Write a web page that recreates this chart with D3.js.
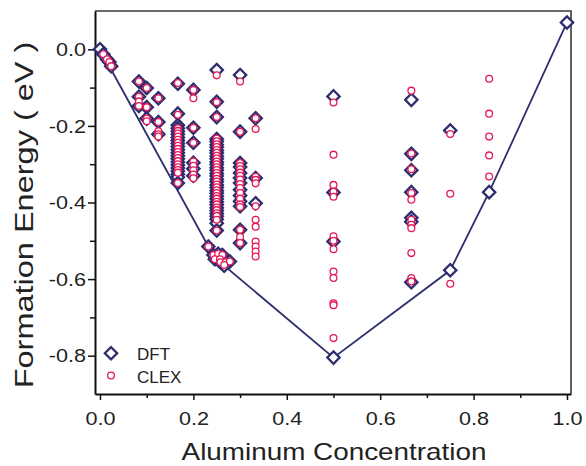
<!DOCTYPE html>
<html>
<head>
<meta charset="utf-8">
<script src="https://cdn.jsdelivr.net/npm/d3@7"></script>
<style>
  body { margin: 0; background: #fff; }
  text { font-family: "Liberation Sans", Arial, Helvetica, sans-serif; fill: #222; }
</style>
</head>
<body>
<svg id="chart" width="586" height="466"></svg>
<script>
// Formation energies (eV) vs. aluminum concentration: DFT and cluster-expansion (CLEX) values.
const dftPoints = [
  [0, 0], [0.007, -0.013], [0.015, -0.026], [0.020, -0.033], [0.024, -0.044],
  [0.0833, -0.084], [0.0833, -0.124], [0.0833, -0.148],
  [0.1, -0.101], [0.1, -0.151], [0.1, -0.181],
  [0.125, -0.128], [0.125, -0.19], [0.125, -0.222],
  [0.1667, -0.09], [0.1667, -0.168], [0.1667, -0.198], [0.1667, -0.206], [0.1667, -0.214],
  [0.1667, -0.222], [0.1667, -0.23], [0.1667, -0.238], [0.1667, -0.246], [0.1667, -0.254],
  [0.1667, -0.262], [0.1667, -0.27], [0.1667, -0.278], [0.1667, -0.286], [0.1667, -0.294],
  [0.1667, -0.302], [0.1667, -0.31], [0.1667, -0.318], [0.1667, -0.326], [0.1667, -0.334],
  [0.1667, -0.349],
  [0.2, -0.106], [0.2, -0.205], [0.2, -0.244], [0.2, -0.296], [0.2, -0.312], [0.2, -0.33],
  [0.25, -0.054], [0.25, -0.137], [0.25, -0.177],
  [0.25, -0.234], [0.25, -0.241], [0.25, -0.249], [0.25, -0.256], [0.25, -0.264], [0.25, -0.271],
  [0.25, -0.279], [0.25, -0.286], [0.25, -0.294], [0.25, -0.301], [0.25, -0.309], [0.25, -0.316],
  [0.25, -0.324], [0.25, -0.331], [0.25, -0.339], [0.25, -0.346], [0.25, -0.354], [0.25, -0.361],
  [0.25, -0.369], [0.25, -0.376], [0.25, -0.384], [0.25, -0.391], [0.25, -0.399], [0.25, -0.406],
  [0.25, -0.414], [0.25, -0.421], [0.25, -0.429], [0.25, -0.436], [0.25, -0.444], [0.25, -0.454],
  [0.25, -0.473],
  [0.232, -0.515], [0.243, -0.537], [0.253, -0.534], [0.262, -0.537], [0.246, -0.548],
  [0.257, -0.548], [0.258, -0.556], [0.269, -0.556], [0.278, -0.554], [0.266, -0.565],
  [0.3, -0.067], [0.3, -0.215], [0.3, -0.297], [0.3, -0.307], [0.3, -0.323], [0.3, -0.336],
  [0.3, -0.349], [0.3, -0.367], [0.3, -0.382], [0.3, -0.397], [0.3, -0.41], [0.3, -0.471], [0.3, -0.506],
  [0.3333, -0.18], [0.3333, -0.336], [0.3333, -0.402],
  [0.5, -0.123], [0.5, -0.374], [0.5, -0.502], [0.5, -0.805],
  [0.6667, -0.132], [0.6667, -0.273], [0.6667, -0.316], [0.6667, -0.373], [0.6667, -0.44],
  [0.6667, -0.45], [0.6667, -0.608],
  [0.75, -0.212], [0.75, -0.577],
  [0.8333, -0.373],
  [1.0, 0.07]
];

const clexPoints = [
  [0.007, -0.013], [0.015, -0.026], [0.020, -0.033], [0.024, -0.044],
  [0.0833, -0.084], [0.0833, -0.124], [0.0833, -0.136], [0.0833, -0.148],
  [0.1, -0.101], [0.1, -0.151], [0.1, -0.181], [0.1, -0.188],
  [0.125, -0.128], [0.125, -0.19], [0.125, -0.214], [0.125, -0.222], [0.125, -0.228],
  [0.1667, -0.088], [0.1667, -0.171], [0.1667, -0.206], [0.1667, -0.213], [0.1667, -0.22],
  [0.1667, -0.228], [0.1667, -0.236], [0.1667, -0.244], [0.1667, -0.252], [0.1667, -0.26],
  [0.1667, -0.268], [0.1667, -0.276], [0.1667, -0.284], [0.1667, -0.292], [0.1667, -0.3],
  [0.1667, -0.308], [0.1667, -0.315], [0.1667, -0.322], [0.1667, -0.349],
  [0.2, -0.106], [0.2, -0.128], [0.2, -0.205], [0.2, -0.244], [0.2, -0.293], [0.2, -0.304],
  [0.2, -0.316], [0.2, -0.327], [0.2, -0.337],
  [0.25, -0.068], [0.25, -0.138], [0.25, -0.177],
  [0.25, -0.233], [0.25, -0.24], [0.25, -0.248], [0.25, -0.255], [0.25, -0.263], [0.25, -0.27],
  [0.25, -0.278], [0.25, -0.285], [0.25, -0.293], [0.25, -0.3], [0.25, -0.308], [0.25, -0.315],
  [0.25, -0.323], [0.25, -0.33], [0.25, -0.338], [0.25, -0.345], [0.25, -0.353], [0.25, -0.36],
  [0.25, -0.368], [0.25, -0.375], [0.25, -0.383], [0.25, -0.39], [0.25, -0.398], [0.25, -0.405],
  [0.25, -0.413], [0.25, -0.42], [0.25, -0.428], [0.25, -0.435], [0.25, -0.445], [0.25, -0.473],
  [0.232, -0.515], [0.243, -0.537], [0.253, -0.534], [0.262, -0.537], [0.246, -0.548],
  [0.257, -0.548], [0.258, -0.556], [0.269, -0.556], [0.278, -0.554], [0.266, -0.563],
  [0.3, -0.084], [0.3, -0.215], [0.3, -0.297], [0.3, -0.305], [0.3, -0.313], [0.3, -0.322],
  [0.3, -0.33], [0.3, -0.34], [0.3, -0.352], [0.3, -0.362], [0.3, -0.375], [0.3, -0.39],
  [0.3, -0.405], [0.3, -0.412], [0.3, -0.471], [0.3, -0.49], [0.3, -0.506],
  [0.3333, -0.18], [0.3333, -0.208], [0.3333, -0.333], [0.3333, -0.341], [0.3333, -0.35],
  [0.3333, -0.41], [0.3333, -0.445], [0.3333, -0.463], [0.3333, -0.502], [0.3333, -0.515],
  [0.3333, -0.528], [0.3333, -0.541],
  [0.5, -0.139], [0.5, -0.275], [0.5, -0.354], [0.5, -0.372], [0.5, -0.385], [0.5, -0.488],
  [0.5, -0.5], [0.5, -0.522], [0.5, -0.58], [0.5, -0.597], [0.5, -0.663], [0.5, -0.668], [0.5, -0.754],
  [0.6667, -0.108], [0.6667, -0.272], [0.6667, -0.313], [0.6667, -0.375], [0.6667, -0.393],
  [0.6667, -0.445], [0.6667, -0.458], [0.6667, -0.467], [0.6667, -0.532], [0.6667, -0.597],
  [0.6667, -0.606],
  [0.75, -0.221], [0.75, -0.377], [0.75, -0.612],
  [0.8333, -0.077], [0.8333, -0.168], [0.8333, -0.228], [0.8333, -0.277], [0.8333, -0.332]
];

// Ground-state convex hull through the lowest DFT structures.
const hullPoints = [
  [0, 0], [0.232, -0.515], [0.266, -0.565], [0.5, -0.805],
  [0.75, -0.577], [0.8333, -0.373], [1.0, 0.07]
];

const xMajorTicks = [0, 0.2, 0.4, 0.6, 0.8, 1.0];
const xMinorTicks = [0.1, 0.3, 0.5, 0.7, 0.9];
const yMajorTicks = [-0.8, -0.6, -0.4, -0.2, 0.0];
const yMinorTicks = [-0.7, -0.5, -0.3, -0.1];
const seriesNames = ["DFT", "CLEX"];

const navy = "#2c2e6e";
const crimson = "#e5195a";

const svg = d3.select("#chart");

const x = d3.scaleLinear().domain([-0.0107, 1.0086]).range([95, 571]);
const y = d3.scaleLinear().domain([-0.9, 0.1]).range([394, 11]);

const fmt = d => d.toFixed(1);
const SX = 1.2;

// Plot frame (top and right edges)
svg.append("path")
  .attr("d", `M${x.range()[0]},${y.range()[1]}H${x.range()[1]}V${y.range()[0]}`)
  .attr("fill", "none").attr("stroke", "#3a3a3a").attr("stroke-width", 1.6);

// Bottom axis
const gx = svg.append("g").attr("transform", `translate(0,${y.range()[0]})`);
gx.call(d3.axisBottom(x).tickValues(xMajorTicks).tickSize(6).tickSizeOuter(0).tickFormat(fmt));
gx.append("g").call(d3.axisBottom(x).tickValues(xMinorTicks).tickSize(4).tickSizeOuter(0).tickFormat(""))
  .select(".domain").remove();
gx.selectAll(".tick text")
  .attr("y", 31).attr("dy", null)
  .attr("font-size", 18)
  .attr("transform", `scale(${SX},1)`)
  .attr("fill", "#222");

// Left axis
const gy = svg.append("g").attr("transform", `translate(${x.range()[0]},0)`);
gy.call(d3.axisLeft(y).tickValues(yMajorTicks).tickSize(7).tickSizeOuter(0).tickFormat(fmt));
gy.append("g").call(d3.axisLeft(y).tickValues(yMinorTicks).tickSize(5).tickSizeOuter(0).tickFormat(""))
  .select(".domain").remove();
gy.selectAll(".tick text")
  .attr("x", -9 / SX).attr("dy", "0.34em")
  .attr("font-size", 18)
  .attr("transform", `scale(${SX},1)`)
  .attr("fill", "#222");

svg.selectAll(".domain").attr("stroke", "#111").attr("stroke-width", 2);
svg.selectAll(".tick line").attr("stroke", "#111").attr("stroke-width", 1.5);

// Axis titles
svg.append("text")
  .attr("transform", `translate(334,460) scale(1.16,1)`)
  .attr("text-anchor", "middle").attr("font-size", 24)
  .text("Aluminum Concentration");
svg.append("text")
  .attr("transform", `translate(33,215) rotate(-90) scale(1.3,1)`)
  .attr("text-anchor", "middle").attr("font-size", 25)
  .text("Formation Energy ( eV )");

// Convex hull
svg.append("path")
  .datum(hullPoints)
  .attr("d", d3.line().x(d => x(d[0])).y(d => y(d[1])))
  .attr("fill", "none").attr("stroke", navy).attr("stroke-width", 1.8);

const diamond = d3.symbol(d3.symbolSquare, 76);

// DFT diamonds
svg.append("g").selectAll("path")
  .data(dftPoints).join("path")
  .attr("d", diamond)
  .attr("transform", d => `translate(${x(d[0])},${y(d[1])}) rotate(45)`)
  .attr("fill", "#fff").attr("stroke", navy).attr("stroke-width", 2.3);

// CLEX circles
svg.append("g").selectAll("circle")
  .data(clexPoints).join("circle")
  .attr("cx", d => x(d[0])).attr("cy", d => y(d[1])).attr("r", 3.4)
  .attr("fill", "#fff").attr("stroke", crimson).attr("stroke-width", 1.3);

// Legend
const legend = svg.append("g");
legend.append("path").attr("d", diamond)
  .attr("transform", "translate(111,353.3) rotate(45)")
  .attr("fill", "#fff").attr("stroke", navy).attr("stroke-width", 2.3);
legend.append("circle").attr("cx", 111).attr("cy", 375.5).attr("r", 3.4)
  .attr("fill", "#fff").attr("stroke", crimson).attr("stroke-width", 1.3);
legend.selectAll("text").data(seriesNames).join("text")
  .attr("x", 137).attr("y", (d, i) => i === 0 ? 360 : 382.7)
  .attr("font-size", 17)
  .text(d => d);
</script>
</body>
</html>
